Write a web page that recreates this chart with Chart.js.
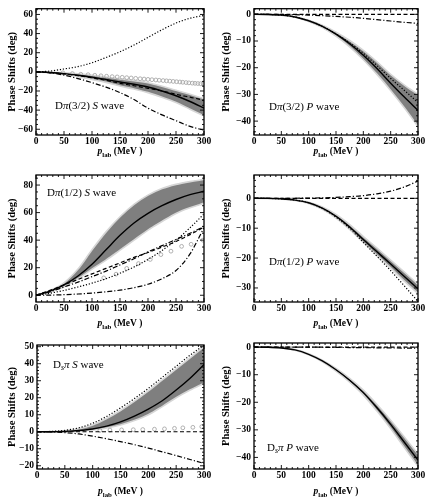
<!DOCTYPE html>
<html>
<head>
<meta charset="utf-8">
<script src="https://cdn.jsdelivr.net/npm/chart.js@4/dist/chart.umd.min.js"></script>
<style>
  body { margin: 0; background: #fff; }
  #wrap { position: relative; width: 428px; height: 497px; }
  #wrap canvas { position: absolute; }
</style>
</head>
<body>
<div id="wrap"></div>
<script>
// shared x grid (MeV) and tick labels
const xGrid = [0, 25, 50, 75, 100, 125, 150, 175, 200, 225, 250, 275, 300];
const xTickVals = [0, 50, 100, 150, 200, 250, 300];
const zeros = [0, 0, 0, 0, 0, 0, 0, 0, 0, 0, 0, 0, 0];

// D pi (3/2) S wave
const s32Ticks = [-60, -40, -20, 0, 20, 40, 60];
const s32Solid = [0, -0.7, -1.8, -3.5, -5.5, -8, -10.6, -13, -15.8, -20, -25, -31, -37.9];
const s32Dotted = [0, 0.8, 3, 5.5, 9.5, 15, 21, 28, 36, 44, 51, 56, 59];
const s32Dashed = [0, -0.8, -2.2, -4, -6.2, -8.8, -12, -14.5, -17.2, -20, -23.4, -26.5, -29.6];
const s32DashDot = [0, -1, -3.4, -7, -11.3, -16, -21.7, -29, -38, -45, -51, -57, -61];
const s32BandHi = [0, -0.4, -1, -2, -3.5, -5.3, -7.3, -9.2, -11.3, -15, -19.3, -23.5, -28];
const s32BandLo = [0, -1, -2.5, -5, -8, -11, -14.8, -18, -21.7, -26.5, -32, -39, -46];
const s32CircX = [48, 65, 80, 93, 105, 116, 126, 136, 145, 154, 162, 170, 178, 186, 193, 200, 207, 214, 220, 227, 233, 239, 245, 251, 257, 262, 268, 273, 279, 284, 289, 294, 299];
const s32CircY = [-1, -1.8, -2.5, -3, -3.6, -4.1, -4.6, -5, -5.3, -5.7, -6.1, -6.4, -6.8, -7.2, -7.5, -7.9, -8.2, -8.5, -8.8, -9.1, -9.4, -9.7, -10, -10.3, -10.6, -10.9, -11.2, -11.5, -11.8, -12, -12.2, -12.4, -12.6];

// D pi (3/2) P wave
const p32Ticks = [-40, -30, -20, -10, 0];
const p32Solid = [0, -0.05, -0.3, -1, -2.4, -4.5, -7.4, -11, -15.3, -20.3, -25.8, -31, -36];
const p32Dotted = [0, -0.05, -0.3, -1, -2.4, -4.5, -7.3, -10.7, -14.6, -19.2, -24, -28.5, -33];
const p32DashDot = [0, 0, -0.05, -0.15, -0.3, -0.5, -0.8, -1.1, -1.5, -2, -2.5, -3, -3.4];
const p32BandHi = [0, -0.05, -0.3, -0.9, -2.2, -4.1, -6.7, -9.8, -13.5, -17.8, -22.5, -26.5, -30];
const p32BandLo = [0, -0.05, -0.3, -1.1, -2.7, -5, -8.2, -12.2, -17, -22.5, -28.5, -35, -42];

// D pi (1/2) S wave
const s12Ticks = [0, 20, 40, 60, 80];
const s12Solid = [0, 3, 7.5, 14, 22.5, 33, 43.5, 52.5, 59.5, 65, 69.5, 73, 75.5];
const s12Dotted = [0, 1.5, 3.5, 6, 8.8, 12, 16, 20.5, 26, 32.5, 40, 49, 59];
const s12Dashed = [0, 3.5, 7.5, 11.5, 15.5, 19.5, 23.5, 27.5, 31, 35, 39, 44, 49.5];
const s12DashDot = [0, 2.5, 6, 9.5, 13.5, 17.5, 22, 26.5, 31.5, 36, 40.5, 45, 50];
const s12DashDot2 = [0, 0.1, 0.4, 0.9, 1.6, 2.5, 3.7, 5.5, 8, 12, 18, 30, 49];
const s12BandHi = [0, 3.5, 9, 19, 33, 46, 57, 66, 72.7, 77.5, 80.5, 82.5, 84];
const s12BandLo = [0, 2.5, 6.2, 12, 19, 25.5, 32.7, 40, 47.3, 53.5, 59.4, 63.5, 66.7];
const s12CircX = [121, 143, 162, 183, 204, 223, 241, 260, 277, 298];
const s12CircY = [12.6, 15.3, 19.5, 23, 26, 29.5, 32, 35.5, 37, 40];

// D pi (1/2) P wave
const p12Ticks = [-30, -20, -10, 0];
const p12Solid = [0, -0.03, -0.2, -0.6, -1.5, -3.3, -6, -9.6, -13.8, -17.9, -22, -26.2, -30.3];
const p12Dotted = [0, -0.03, -0.2, -0.6, -1.5, -3.4, -6.3, -10.1, -14.7, -19.4, -24.2, -29.3, -34.5];
const p12DashDot = [0, 0, 0, 0.02, 0.06, 0.15, 0.3, 0.55, 0.9, 1.5, 2.4, 3.8, 5.8];
const p12BandHi = [0, -0.02, -0.15, -0.5, -1.3, -2.9, -5.4, -8.8, -12.8, -16.7, -20.7, -24.7, -28.8];
const p12BandLo = [0, -0.04, -0.25, -0.7, -1.7, -3.7, -6.6, -10.4, -14.8, -19.1, -23.3, -27.7, -31.8];

// Ds pi S wave
const sSTicks = [-20, -10, 0, 10, 20, 30, 40, 50];
const sSSolid = [0, 0, 0.2, 0.7, 1.6, 3.3, 5.8, 9.2, 13.3, 18.2, 24.5, 31.5, 39.5];
const sSDotted = [0, 0.2, 0.8, 2.3, 5, 9, 14, 19.5, 25.5, 32, 38.5, 45, 51];
const sSDashDot = [0, -0.1, -0.5, -1.3, -2.6, -4.1, -5.8, -7.6, -9.6, -11.8, -14, -16.3, -18.6];
const sSBandHi = [0, 0.1, 0.5, 1.7, 4, 7.8, 12.5, 18, 24, 30.5, 37, 43.5, 50];
const sSBandLo = [0, 0, 0.1, 0.4, 1, 2.2, 4, 6.6, 10, 14.8, 20, 24.5, 28.5];
const sSCircX = [113, 131, 152, 173, 190, 211, 229, 247, 262, 280, 296];
const sSCircY = [0.8, 1, 1.1, 1.2, 1.3, 1.5, 1.7, 2, 2.3, 2.6, 3];

// Ds pi P wave
const pSTicks = [-40, -30, -20, -10, 0];
const pSSolid = [0, -0.05, -0.3, -1, -2.6, -5, -8.2, -12, -16.5, -22, -28, -34.5, -41];
const pSDashDot = [0, 0, 0, 0, 0, -0.05, -0.1, -0.15, -0.2, -0.25, -0.3, -0.35, -0.4];
const pSBandHi = [0, -0.05, -0.3, -0.9, -2.4, -4.7, -7.7, -11.3, -15.6, -20.8, -26.5, -32.6, -38.8];
const pSBandLo = [0, -0.05, -0.3, -1.1, -2.8, -5.3, -8.7, -12.7, -17.4, -23.2, -29.5, -36.4, -43.2];

const lineStyles = {
  solid:   { borderColor: '#000', borderWidth: 1.4, borderDash: [] },
  dotted:  { borderColor: '#000', borderWidth: 1.2, borderDash: [1.2, 1.8] },
  dashed:  { borderColor: '#000', borderWidth: 1.2, borderDash: [4, 2.5] },
  dashdot: { borderColor: '#000', borderWidth: 1.2, borderDash: [5, 2, 1.2, 2] }
};

const serif = "'Liberation Serif', 'Times New Roman', serif";

// panel layout (page coordinates)
const panels = [
  { left: 0, top: 0, w: 214, h: 160, plot: [36, 7, 204, 135], y: [-66, 66], ticks: s32Ticks, minor: 5,
    lines: [['solid', s32Solid], ['dotted', s32Dotted], ['dashed', s32Dashed], ['dashdot', s32DashDot]],
    band: [s32BandHi, s32BandLo], circ: [s32CircX, s32CircY],
    label: [{ t: 'D' }, { t: 'π', it: true }, { t: '(3/2) ' }, { t: 'S', it: true }, { t: ' wave' }], lx: 55, ly: 106, ytx: 12, xty: 152 },
  { left: 214, top: 0, w: 214, h: 160, plot: [254, 7, 418, 135], y: [-45.2, 2.1], ticks: p32Ticks, minor: 2,
    lines: [['solid', p32Solid], ['dotted', p32Dotted], ['dashed', zeros], ['dashdot', p32DashDot]],
    band: [p32BandHi, p32BandLo], circ: null,
    label: [{ t: 'D' }, { t: 'π', it: true }, { t: '(3/2) ' }, { t: 'P', it: true }, { t: ' wave' }], lx: 269, ly: 107, ytx: 226, xty: 152 },
  { left: 0, top: 160, w: 214, h: 170, plot: [36, 175, 204, 302], y: [-4.9, 87.3], ticks: s12Ticks, minor: 5,
    lines: [['solid', s12Solid], ['dotted', s12Dotted], ['dashed', s12Dashed], ['dashdot', s12DashDot], ['dashdot', s12DashDot2]],
    band: [s12BandHi, s12BandLo], circ: [s12CircX, s12CircY],
    label: [{ t: 'D' }, { t: 'π', it: true }, { t: '(1/2) ' }, { t: 'S', it: true }, { t: ' wave' }], lx: 47, ly: 193, ytx: 12, xty: 324 },
  { left: 214, top: 160, w: 214, h: 170, plot: [254, 175, 418, 302], y: [-34.7, 7.8], ticks: p12Ticks, minor: 2,
    lines: [['solid', p12Solid], ['dotted', p12Dotted], ['dashed', zeros], ['dashdot', p12DashDot]],
    band: [p12BandHi, p12BandLo], circ: null,
    label: [{ t: 'D' }, { t: 'π', it: true }, { t: '(1/2) ' }, { t: 'P', it: true }, { t: ' wave' }], lx: 269, ly: 262, ytx: 226, xty: 324 },
  { left: 0, top: 330, w: 214, h: 167, plot: [37, 345, 204, 469], y: [-21.9, 51], ticks: sSTicks, minor: 2,
    lines: [['solid', sSSolid], ['dotted', sSDotted], ['dashed', zeros], ['dashdot', sSDashDot]],
    band: [sSBandHi, sSBandLo], circ: [sSCircX, sSCircY],
    label: [{ t: 'D' }, { t: 's', it: true, sub: true }, { t: 'π', it: true }, { t: ' ' }, { t: 'S', it: true }, { t: ' wave' }], lx: 53, ly: 365, ytx: 12, xty: 492 },
  { left: 214, top: 330, w: 214, h: 167, plot: [254, 343, 418, 469], y: [-44.2, 1.5], ticks: pSTicks, minor: 2,
    lines: [['solid', pSSolid], ['dashed', zeros], ['dashdot', pSDashDot]],
    band: [pSBandHi, pSBandLo], circ: null,
    label: [{ t: 'D' }, { t: 's', it: true, sub: true }, { t: 'π', it: true }, { t: ' ' }, { t: 'P', it: true }, { t: ' wave' }], lx: 267, ly: 448, ytx: 226, xty: 492 }
];

function pts(xs, ys) { return xs.map((x, i) => ({ x: x, y: ys[i] })); }

function segFont(s, size, bold) {
  const fs = s.sub ? size * 0.72 : size;
  return (s.it ? 'italic ' : '') + (bold || s.b ? 'bold ' : '') + fs + 'px ' + serif;
}

function drawRich(ctx, segs, x, y, size, bold, center) {
  let total = 0;
  segs.forEach(s => { ctx.font = segFont(s, size, bold); total += ctx.measureText(s.t).width; });
  let cx = center ? x - total / 2 : x;
  ctx.textAlign = 'left';
  ctx.textBaseline = 'middle';
  segs.forEach(s => {
    ctx.font = segFont(s, size, bold);
    ctx.fillText(s.t, cx, y + (s.sub ? size * 0.3 : 0));
    cx += ctx.measureText(s.t).width;
  });
}

const decoPlugin = {
  id: 'deco',
  afterDatasetsDraw(chart, args, o) {
    const ctx = chart.ctx, a = chart.chartArea, xs = chart.scales.x, ys = chart.scales.y;
    ctx.save();
    ctx.fillStyle = '#000';
    ctx.strokeStyle = '#000';
    // frame
    ctx.lineWidth = 1.3;
    ctx.strokeRect(a.left, a.top, a.right - a.left, a.bottom - a.top);
    // inward ticks on all four sides
    ctx.lineWidth = 0.9;
    ctx.beginPath();
    for (let v = 0; v <= 300; v += 10) {
      const px = xs.getPixelForValue(v), len = v % 50 === 0 ? 4 : 2;
      ctx.moveTo(px, a.bottom); ctx.lineTo(px, a.bottom - len);
      ctx.moveTo(px, a.top); ctx.lineTo(px, a.top + len);
    }
    const major = o.ticks[1] - o.ticks[0];
    for (let v = Math.ceil(ys.min / o.minor) * o.minor; v <= ys.max; v += o.minor) {
      const py = ys.getPixelForValue(v);
      const len = Math.abs(v / major - Math.round(v / major)) < 1e-6 ? 4 : 2;
      ctx.moveTo(a.left, py); ctx.lineTo(a.left + len, py);
      ctx.moveTo(a.right, py); ctx.lineTo(a.right - len, py);
    }
    ctx.stroke();
    // panel label
    drawRich(ctx, o.label, o.lx, o.ly, 11, false, false);
    // x title: p_lab (MeV )
    drawRich(ctx, [{ t: 'p', it: true }, { t: 'lab', sub: true }, { t: ' (MeV )' }], (a.left + a.right) / 2, o.xty, 9.5, true, true);
    // y title
    ctx.translate(o.ytx, (a.top + a.bottom) / 2);
    ctx.rotate(-Math.PI / 2);
    drawRich(ctx, [{ t: 'Phase Shifts (deg)' }], 0, 0, 10.5, true, true);
    ctx.restore();
  }
};

const smooth = { pointRadius: 0, tension: 0.4, cubicInterpolationMode: 'monotone' };
const tickFont = { family: serif, size: 9.5, weight: 'bold' };
const minusFmt = v => (v < 0 ? '\u2212' + Math.abs(v) : String(v));

panels.forEach(p => {
  const cv = document.createElement('canvas');
  cv.width = p.w; cv.height = p.h;
  cv.style.left = p.left + 'px'; cv.style.top = p.top + 'px';
  document.getElementById('wrap').appendChild(cv);

  const datasets = [];
  p.lines.forEach(l => datasets.push(Object.assign({ data: pts(xGrid, l[1]), fill: false }, smooth, lineStyles[l[0]])));
  if (p.circ) {
    datasets.push({ data: pts(p.circ[0], p.circ[1]), showLine: false, pointRadius: 1.9, pointStyle: 'circle',
      pointBorderColor: '#a8a8a8', pointBackgroundColor: 'rgba(0,0,0,0)', pointBorderWidth: 0.9 });
  }
  datasets.push(Object.assign({ data: pts(xGrid, p.band[0]), fill: '+1', backgroundColor: '#7f7f7f', borderColor: '#d6d6d6', borderWidth: 1.6 }, smooth));
  datasets.push(Object.assign({ data: pts(xGrid, p.band[1]), fill: false, borderColor: '#d6d6d6', borderWidth: 1.6 }, smooth));

  const pl = p.plot;
  new Chart(cv, {
    type: 'line',
    data: { datasets: datasets },
    plugins: [decoPlugin],
    options: {
      responsive: false,
      animation: false,
      events: [],
      layout: { padding: { left: 0, top: pl[1] - p.top, right: p.left + p.w - pl[2], bottom: 0 } },
      plugins: {
        legend: { display: false },
        tooltip: { enabled: false },
        filler: { drawTime: 'beforeDatasetsDraw' },
        deco: { ticks: p.ticks, minor: p.minor, label: p.label, lx: p.lx - p.left, ly: p.ly - p.top, ytx: p.ytx - p.left, xty: p.xty - p.top }
      },
      scales: {
        x: {
          type: 'linear', min: 0, max: 300,
          grid: { display: false, drawTicks: false }, border: { display: false },
          ticks: { font: tickFont, color: '#000', padding: 1, maxRotation: 0 },
          afterBuildTicks: s => { s.ticks = xTickVals.map(v => ({ value: v })); },
          afterFit: s => { s.height = p.top + p.h - pl[3]; }
        },
        y: {
          type: 'linear', min: p.y[0], max: p.y[1],
          grid: { display: false, drawTicks: false }, border: { display: false },
          ticks: { font: tickFont, color: '#000', padding: 3, callback: minusFmt },
          afterBuildTicks: s => { s.ticks = p.ticks.map(v => ({ value: v })); },
          afterFit: s => { s.width = pl[0] - p.left; }
        }
      }
    }
  });
});
</script>
</body>
</html>
